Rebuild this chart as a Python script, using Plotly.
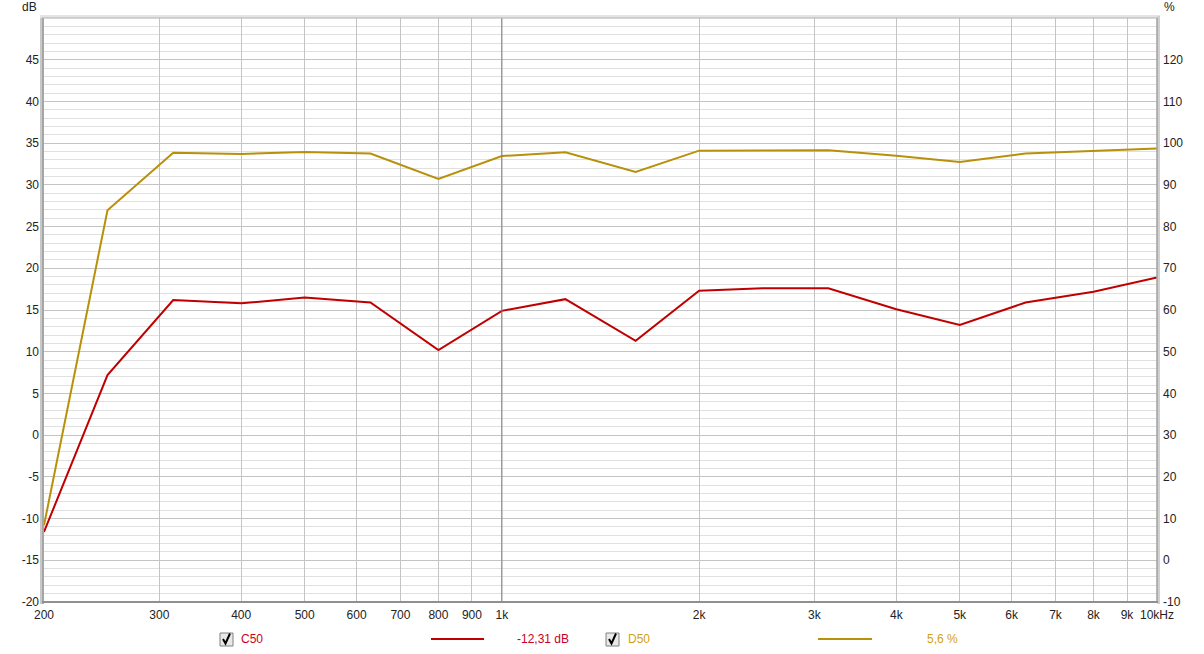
import math
import plotly.graph_objects as go

# ---- data ----
freqs = [200, 250, 315, 400, 500, 630, 800, 1000, 1250, 1600, 2000, 2500, 3150, 4000, 5000, 6300, 8000, 10000]
c50_db = [-11.6, 7.2, 16.2, 15.8, 16.5, 15.9, 10.2, 14.9, 16.3, 11.3, 17.3, 17.6, 17.6, 15.1, 13.2, 15.9, 17.2, 18.9]
d50_pct = [8.4, 83.9, 97.7, 97.4, 97.9, 97.5, 91.4, 96.9, 97.8, 93.1, 98.2, 98.3, 98.3, 97.0, 95.5, 97.5, 98.1, 98.7]

x_tickvals = [200, 300, 400, 500, 600, 700, 800, 900, 1000, 2000, 3000, 4000, 5000, 6000, 7000, 8000, 9000, 10000]
x_ticktext = ["200", "300", "400", "500", "600", "700", "800", "900", "1k", "2k", "3k", "4k", "5k", "6k", "7k", "8k", "9k", "10kHz"]
left_ticks = list(range(-20, 50, 5))
left_ticktext = [str(v) for v in left_ticks]
right_ticks = list(range(-10, 130, 10))
right_ticktext = [str(v) for v in right_ticks]

legend_c50_name = "C50"
legend_c50_value = "-12,31 dB"
legend_d50_name = "D50"
legend_d50_value = "5,6 %"

RED = "#c00000"
GOLD = "#b8900a"
RED_TXT = "#cc0020"
GOLD_TXT = "#d4a012"

FIG_W, FIG_H = 1204, 654

# ---- geometry helpers (pixel -> paper) ----
L, R, T, B = 44, 1157, 18, 602
W, H = R - L, B - T
def px(x):
    return (x - L) / W
def py(y):
    return (B - y) / H

FONT = "Liberation Sans, Arial, sans-serif"

fig = go.Figure()
fig.add_trace(go.Scatter(x=freqs, y=c50_db, mode="lines", line=dict(color=RED, width=2),
                         yaxis="y", showlegend=False, hoverinfo="skip"))
fig.add_trace(go.Scatter(x=freqs, y=d50_pct, mode="lines", line=dict(color=GOLD, width=2),
                         yaxis="y2", showlegend=False, hoverinfo="skip"))

fig.update_layout(
    width=FIG_W, height=FIG_H,
    margin=dict(l=L, r=FIG_W - R, t=T, b=FIG_H - B, autoexpand=False),
    paper_bgcolor="white", plot_bgcolor="white",
    font=dict(family=FONT, size=12, color="#222222"),
    xaxis=dict(type="log", range=[math.log10(200), 4], tickvals=x_tickvals, ticktext=x_ticktext,
               showgrid=True, gridcolor="#c4c4c4", gridwidth=1, zeroline=False, showline=False,
               ticks="", automargin=False, ticklabelstandoff=4,
               tickfont=dict(size=12, color="#222222"), fixedrange=True),
    yaxis=dict(range=[-20, 50], tickvals=left_ticks, ticktext=left_ticktext, showgrid=True,
               gridcolor="#c4c4c4", gridwidth=1, automargin=False,
               zeroline=False, showline=False, ticks="", ticklabelstandoff=4,
               minor=dict(dtick=1, tick0=0, showgrid=True, gridcolor="#e0e0e0", gridwidth=1),
               tickfont=dict(size=12, color="#222222")),
    yaxis2=dict(range=[-10, 130], tickvals=right_ticks, ticktext=right_ticktext, overlaying="y", side="right",
                showgrid=False, zeroline=False, showline=False, ticks="", ticklabelstandoff=5,
                automargin=False, tickfont=dict(size=12, color="#222222")),
)

shapes = []
# darker 1k line
shapes.append(dict(type="line", xref="x", yref="paper", x0=1000, x1=1000, y0=0, y1=1,
                   line=dict(color="#808080", width=1), layer="above"))
# frame: shadows and edges
shapes.append(dict(type="rect", xref="paper", yref="paper", x0=px(40), x1=px(44), y0=py(604), y1=py(17),
                   fillcolor="#c8c8c8", line=dict(width=0), layer="above"))
shapes.append(dict(type="rect", xref="paper", yref="paper", x0=px(42), x1=px(44), y0=py(604), y1=py(18),
                   fillcolor="#a6a6a6", line=dict(width=0), layer="above"))
shapes.append(dict(type="rect", xref="paper", yref="paper", x0=px(40), x1=px(1160), y0=py(18), y1=py(15),
                   fillcolor="#e4e4e4", line=dict(width=0), layer="above"))
shapes.append(dict(type="line", xref="paper", yref="paper", x0=px(42), x1=px(1158), y0=py(18), y1=py(18),
                   line=dict(color="#b0b0b0", width=1), layer="above"))
shapes.append(dict(type="rect", xref="paper", yref="paper", x0=px(1157), x1=px(1160), y0=py(604), y1=py(16),
                   fillcolor="#d0d0d0", line=dict(width=0), layer="above"))
shapes.append(dict(type="line", xref="paper", yref="paper", x0=px(1157), x1=px(1157), y0=py(603), y1=py(18),
                   line=dict(color="#a0a0a0", width=1.5), layer="above"))
shapes.append(dict(type="line", xref="paper", yref="paper", x0=px(42), x1=px(1158), y0=py(602), y1=py(602),
                   line=dict(color="#909090", width=2), layer="above"))

# legend lines
shapes.append(dict(type="line", xref="paper", yref="paper", x0=px(431), x1=px(484), y0=py(639), y1=py(639),
                   line=dict(color=RED, width=2)))
shapes.append(dict(type="line", xref="paper", yref="paper", x0=px(818), x1=px(872), y0=py(639), y1=py(639),
                   line=dict(color=GOLD, width=2)))
# checkboxes
for cx in (220, 606):
    shapes.append(dict(type="rect", xref="paper", yref="paper", x0=px(cx), x1=px(cx + 13), y0=py(646), y1=py(633),
                       fillcolor="#e8e8e8", line=dict(color="#808080", width=1)))
    path = "M {} {} L {} {} L {} {}".format(px(cx + 3), py(639), px(cx + 5.5), py(643.5), px(cx + 10), py(633.5))
    shapes.append(dict(type="path", xref="paper", yref="paper", path=path,
                       line=dict(color="#000000", width=2)))

annotations = [
    dict(text="dB", xref="paper", yref="paper", x=px(39), y=py(7), xanchor="right", yanchor="middle",
         showarrow=False, font=dict(size=12, color="#222222")),
    dict(text="%", xref="paper", yref="paper", x=px(1162), y=py(7), xanchor="left", yanchor="middle",
         showarrow=False, font=dict(size=12, color="#222222")),
    dict(text=legend_c50_name, xref="paper", yref="paper", x=px(239), y=py(639), xanchor="left", yanchor="middle",
         showarrow=False, font=dict(size=12, color=RED_TXT)),
    dict(text=legend_c50_value, xref="paper", yref="paper", x=px(515), y=py(639), xanchor="left", yanchor="middle",
         showarrow=False, font=dict(size=12, color=RED_TXT)),
    dict(text=legend_d50_name, xref="paper", yref="paper", x=px(626), y=py(639), xanchor="left", yanchor="middle",
         showarrow=False, font=dict(size=12, color=GOLD_TXT)),
    dict(text=legend_d50_value, xref="paper", yref="paper", x=px(925), y=py(639), xanchor="left", yanchor="middle",
         showarrow=False, font=dict(size=12, color=GOLD_TXT)),
]

fig.update_layout(shapes=shapes, annotations=annotations)
# remove the browser's default 8px body margin so the figure sits at the page origin
fig.write_html("out.html", config={"displayModeBar": False},
               post_script="document.body.style.margin='0px';document.body.style.overflow='hidden';")
